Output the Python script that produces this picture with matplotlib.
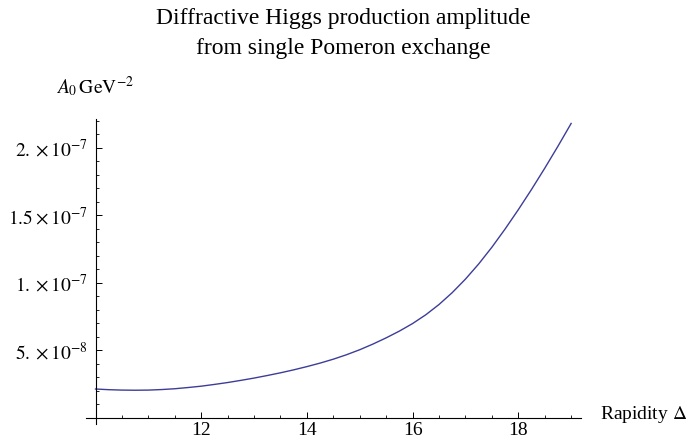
import numpy as np
import matplotlib
matplotlib.use("Agg")
import matplotlib.pyplot as plt
from matplotlib.ticker import MultipleLocator, FixedLocator

plt.rcParams['font.family'] = ['Liberation Serif', 'DejaVu Serif']
plt.rcParams['mathtext.fontset'] = 'stix'

# rapidity vs amplitude
rapidity = [10.0, 10.25, 10.5, 10.75, 11.0, 11.25, 11.5, 11.75, 12.0, 12.25,
            12.5, 12.75, 13.0, 13.25, 13.5, 13.75, 14.0, 14.25, 14.5, 14.75,
            15.0, 15.25, 15.5, 15.75, 16.0, 16.25, 16.5, 16.75, 17.0, 17.25,
            17.5, 17.75, 18.0, 18.25, 18.5, 18.75, 19.0]
amp = np.array([2.12, 2.07, 2.04, 2.03, 2.04, 2.08, 2.14, 2.23, 2.33, 2.46,
                2.60, 2.76, 2.93, 3.12, 3.32, 3.54, 3.78, 4.04, 4.33, 4.66,
                5.03, 5.45, 5.91, 6.41, 6.97, 7.62, 8.38, 9.26, 10.26, 11.38,
                12.62, 13.97, 15.40, 16.90, 18.47, 20.10, 21.79]) * 1e-8

xticks = [12, 14, 16, 18]
yticks = [5e-8, 1e-7, 1.5e-7, 2e-7]
ylabels = [r"$5.\times 10^{-8}$", r"$1.\times 10^{-7}$",
           r"$1.5\times 10^{-7}$", r"$2.\times 10^{-7}$"]

fig = plt.figure(figsize=(6.86, 4.47), dpi=100)
ax = fig.add_axes([0.1254, 0.0515, 0.7218, 0.6817])

ax.plot(rapidity, amp, color='#3d3d99', lw=1.0)

ax.set_xlim(9.82, 19.19)
ax.set_ylim(-0.47e-8, 2.21e-7)

ax.spines['top'].set_visible(False)
ax.spines['right'].set_visible(False)
ax.spines['left'].set_position(('data', 10))
ax.spines['bottom'].set_position(('data', 0))
for s in ('left', 'bottom'):
    ax.spines[s].set_linewidth(0.8)

ax.xaxis.set_major_locator(FixedLocator(xticks))
ax.xaxis.set_minor_locator(MultipleLocator(0.5))
ax.yaxis.set_major_locator(FixedLocator(yticks))
ax.yaxis.set_minor_locator(MultipleLocator(1e-8))
ax.set_yticklabels(ylabels)
ax.tick_params(which='major', direction='in', length=4.2, width=0.7, labelsize=14)
ax.tick_params(axis='y', which='major', pad=5.5)
ax.tick_params(axis='x', which='major', pad=3.5)
ax.tick_params(which='minor', direction='in', length=2.2, width=0.6)

fig.text(0.5, 0.958, "Diffractive Higgs production amplitude", ha='center', va='center', fontsize=17)
fig.text(0.5, 0.892, "from single Pomeron exchange", ha='center', va='center', fontsize=17)
fig.text(0.138, 0.806, r"$A_0\,\mathrm{GeV}^{-2}$", ha='center', va='center', fontsize=14)
fig.text(0.874, 0.072, r"Rapidity $\Delta$", ha='left', va='center', fontsize=14)

fig.savefig("out.png", dpi=100)
